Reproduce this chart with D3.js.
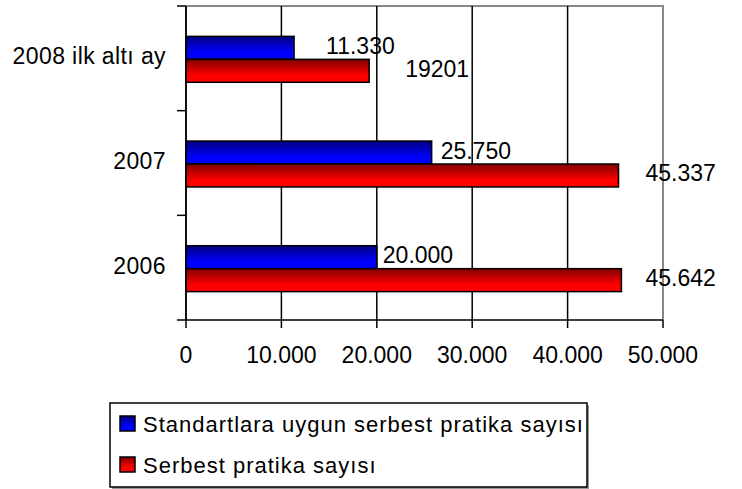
<!DOCTYPE html>
<html>
<head>
<meta charset="utf-8">
<script src="https://cdn.jsdelivr.net/npm/d3@7"></script>
<style>
  body { margin: 0; background: #fff; }
  text { font-family: "Liberation Sans", Arial, sans-serif; fill: #000; }
</style>
</head>
<body>
<div id="chart"></div>
<script>
// data
var categories = ["2008 ilk altı ay", "2007", "2006"];
var seriesNames = ["Standartlara uygun serbest pratika sayısı", "Serbest pratika sayısı"];
var standartValues = [11330, 25750, 20000];
var serbestValues = [19201, 45337, 45642];
var standartLabels = ["11.330", "25.750", "20.000"];
var serbestLabels = ["19201", "45.337", "45.642"];
var xTicks = [0, 10000, 20000, 30000, 40000, 50000];

var width = 742, height = 489;
var margin = { top: 6, right: 79, bottom: 169, left: 186 },
    w = width - margin.left - margin.right,
    h = height - margin.top - margin.bottom;

var svg = d3.select("#chart")
    .append("svg")
    .attr("width", width)
    .attr("height", height);

// gradients, dark at the top, bright below
var defs = svg.append("defs");
function grad(id, dark, bright) {
    var g = defs.append("linearGradient").attr("id", id)
        .attr("x1", 0).attr("y1", 0).attr("x2", 0).attr("y2", 1);
    g.append("stop").attr("offset", "0%").attr("stop-color", dark);
    g.append("stop").attr("offset", "70%").attr("stop-color", bright);
    g.append("stop").attr("offset", "100%").attr("stop-color", bright);
}
grad("gBlue", "#000080", "#0000ff");
grad("gRed", "#800000", "#ff0000");
var fills = ["url(#gBlue)", "url(#gRed)"];

var g = svg.append("g")
    .attr("transform", "translate(" + margin.left + "," + margin.top + ")");

var x = d3.scaleLinear().domain([0, 50000]).range([0, w]);
var y = d3.scaleBand().domain(categories).range([0, h]);
var sub = d3.scaleBand().domain(seriesNames).range([0, y.bandwidth()])
    .paddingInner(0).paddingOuter(1.28);

// plot border (top/right, grey)
g.append("path")
    .attr("d", "M0,0H" + x(50000) + "V" + h)
    .attr("fill", "none")
    .attr("stroke", "#888")
    .attr("stroke-width", 2);

// vertical gridlines + ticks below the axis
g.selectAll(".grid")
    .data(xTicks)
    .enter().append("line")
    .attr("x1", d => x(d)).attr("x2", d => x(d))
    .attr("y1", d => (d === 50000 ? h : 0))
    .attr("y2", h + 8)
    .attr("stroke", "#000")
    .attr("stroke-width", 1.5);

// category ticks on the left
var yTickPos = [0, y.bandwidth(), 2 * y.bandwidth()];
g.selectAll(".ytick")
    .data(yTickPos)
    .enter().append("line")
    .attr("x1", -9).attr("x2", 0)
    .attr("y1", d => d).attr("y2", d => d)
    .attr("stroke", "#000")
    .attr("stroke-width", 1.5);

// bottom axis line
g.append("line")
    .attr("x1", -9).attr("x2", x(50000))
    .attr("y1", h).attr("y2", h)
    .attr("stroke", "#000").attr("stroke-width", 1.5);

// x tick labels
g.selectAll(".xlab")
    .data(xTicks)
    .enter().append("text")
    .attr("x", d => x(d))
    .attr("y", h + 43)
    .attr("text-anchor", "middle")
    .style("font-size", "23px")
    .text(d => d === 0 ? "0" : d3.format(",")(d).replace(/,/g, "."));

// category labels
g.selectAll(".ylab")
    .data(categories)
    .enter().append("text")
    .attr("x", -20)
    .attr("y", d => y(d) + y.bandwidth() / 2 + 6)
    .attr("text-anchor", "end")
    .style("font-size", "23px")
    .style("letter-spacing", "0.4px")
    .text(d => d);

// bars
var seriesData = [standartValues, serbestValues];
var rows = [];
categories.forEach(function (c, i) {
    seriesNames.forEach(function (s, j) {
        rows.push({ cat: c, ser: s, j: j, i: i, v: seriesData[j][i],
            label: (j === 0 ? standartLabels : serbestLabels)[i] });
    });
});

g.selectAll(".bar")
    .data(rows)
    .enter().append("rect")
    .attr("x", 0)
    .attr("y", d => y(d.cat) + sub(d.ser) + 1)
    .attr("width", d => x(d.v))
    .attr("height", sub.bandwidth())
    .attr("fill", d => fills[d.j])
    .attr("stroke", "#000")
    .attr("stroke-width", 1.5);

// y axis line on top of bars
g.append("line")
    .attr("x1", 0).attr("x2", 0)
    .attr("y1", 0).attr("y2", h)
    .attr("stroke", "#000").attr("stroke-width", 1.5);

// data labels: excel placed these a bit loosely, nudge per label
var labelNudge = [[32, 36], [9, 27], [6, 24]];
g.selectAll(".vlab")
    .data(rows)
    .enter().append("text")
    .attr("x", d => x(d.v) + labelNudge[d.i][d.j])
    .attr("y", d => y(d.cat) + sub(d.ser) + 1 + sub.bandwidth() / 2 + 6)
    .style("font-size", "23px")
    .text(d => d.label);

// legend
var lg = svg.append("g").attr("transform", "translate(110,403)");
lg.append("rect")
    .attr("x", 2).attr("y", 2).attr("width", 477).attr("height", 84)
    .attr("fill", "#999");
lg.append("rect")
    .attr("x", 0).attr("y", 0).attr("width", 477).attr("height", 84)
    .attr("fill", "#fff").attr("stroke", "#000").attr("stroke-width", 1.5);
var li = lg.selectAll(".li")
    .data(seriesNames)
    .enter().append("g")
    .attr("transform", (d, i) => "translate(10," + (13 + i * 41) + ")");
li.append("rect")
    .attr("width", 15).attr("height", 15)
    .attr("fill", (d, i) => fills[i])
    .attr("stroke", "#000").attr("stroke-width", 1.5);
li.append("text")
    .attr("x", 23).attr("y", 16)
    .style("font-size", "22px")
    .style("letter-spacing", "1px")
    .text(d => d);
</script>
</body>
</html>
